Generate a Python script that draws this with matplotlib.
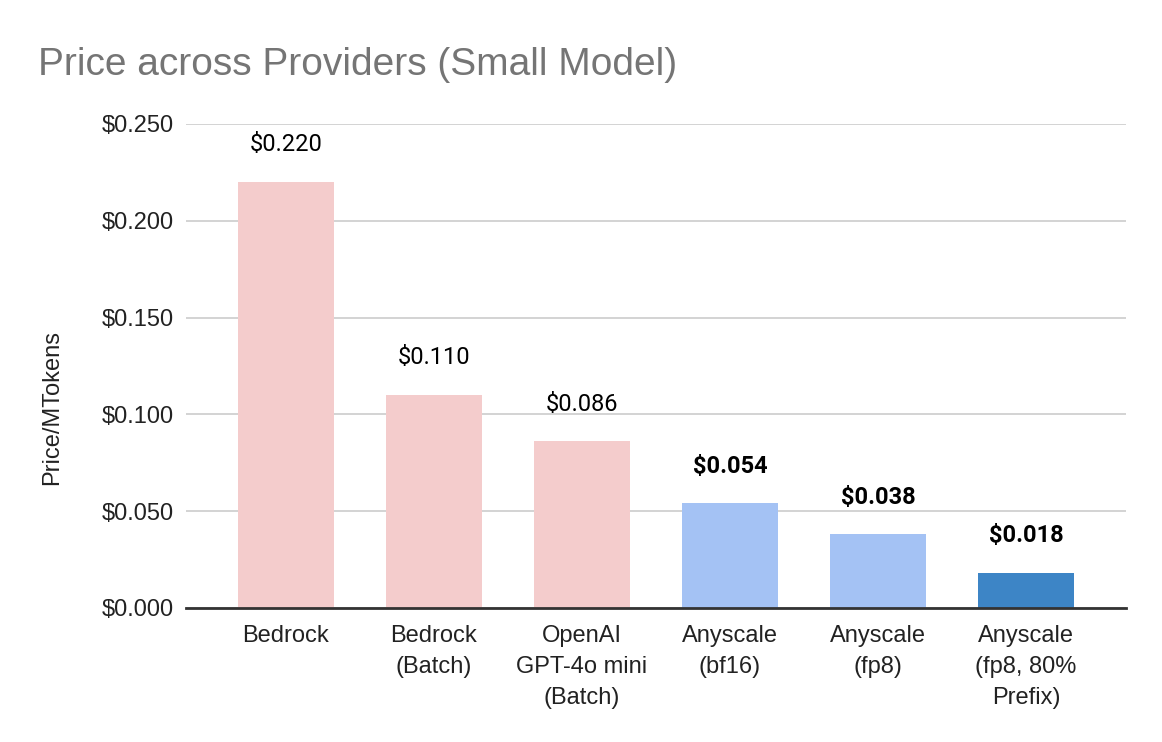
#!/usr/bin/env python3

import matplotlib.pyplot as plt

categories = ['Bedrock', 'Bedrock\n(Batch)', 'OpenAI\nGPT-4o mini\n(Batch)',
              'Anyscale\n(bf16)', 'Anyscale\n(fp8)', 'Anyscale\n(fp8, 80%\nPrefix)']
prices = [0.220, 0.110, 0.086, 0.054, 0.038, 0.018]
bar_colors = ['#f4cccc', '#f4cccc', '#f4cccc', '#a4c2f4', '#a4c2f4', '#3d85c6']
bold_labels = [False, False, False, True, True, True]
yticks = [0.0, 0.05, 0.10, 0.15, 0.20, 0.25]

plt.rcParams['font.family'] = ['Liberation Sans', 'DejaVu Sans']

fig = plt.figure(figsize=(11.62, 7.42), dpi=100)
ax = fig.add_axes([0.160, 0.1806, 0.809, 0.6523])

x = list(range(len(categories)))
ax.bar(x, prices, width=0.65, color=bar_colors, zorder=3)

for xi, p, b in zip(x, prices, bold_labels):
    ax.annotate(f'${p:.3f}', (xi, p), xytext=(0, 18.5), textcoords='offset points',
                ha='center', va='bottom', fontsize=17, family='Roboto',
                fontweight='bold' if b else 'normal', color='#000000')

ax.set_ylim(0, 0.25)
ax.set_xlim(-0.676, 5.676)
ax.set_yticks(yticks)
ax.set_yticklabels([f'${t:.3f}' for t in yticks])
ax.set_xticks(x)
ax.set_xticklabels(categories, linespacing=1.52, va='top')
ax.tick_params(axis='both', length=0, labelsize=17, colors='#222222')
ax.tick_params(axis='x', pad=12.5)
ax.tick_params(axis='y', pad=9)

ax.grid(axis='y', color='#cccccc', linewidth=1.2, zorder=0)
for s in ['top', 'right', 'left']:
    ax.spines[s].set_visible(False)
ax.spines['bottom'].set_color('#333333')
ax.spines['bottom'].set_linewidth(2)
ax.spines['bottom'].set_zorder(4)

ax.set_ylabel('Price/MTokens', fontsize=17, color='#222222')
ax.yaxis.set_label_coords(-0.131, 0.415)

fig.text(0.033, 0.912, 'Price across Providers (Small Model)', fontsize=28,
         color='#757575', va='center', ha='left')

fig.savefig('out.png', dpi=100)
